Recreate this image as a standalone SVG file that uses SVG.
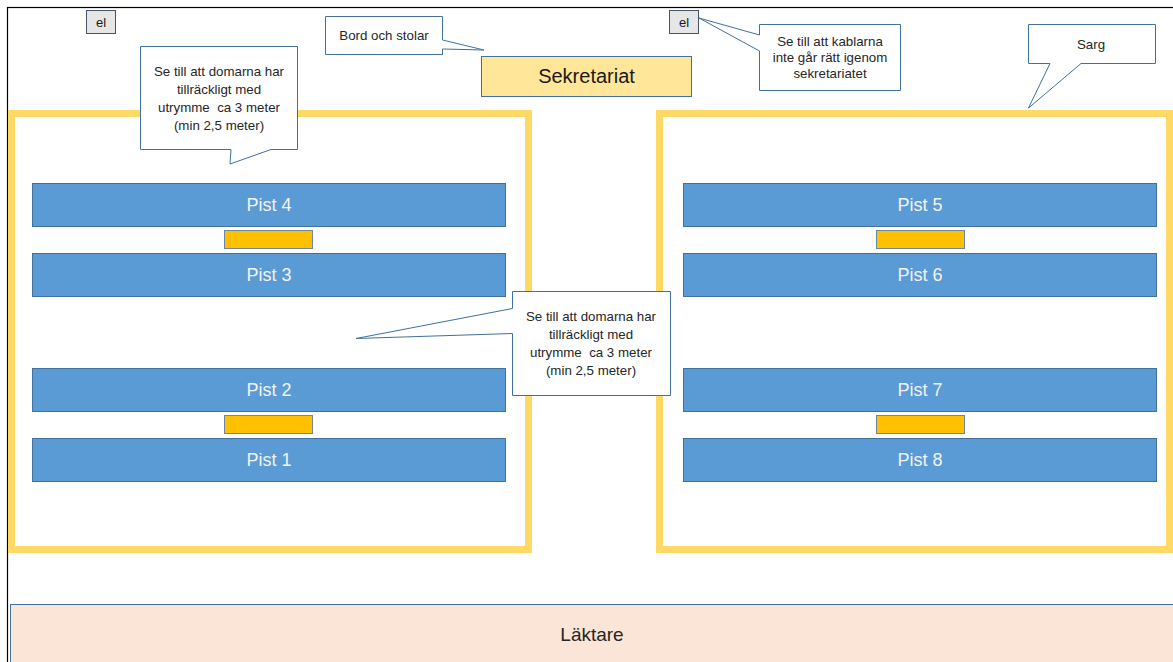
<svg xmlns="http://www.w3.org/2000/svg" width="1173" height="662" viewBox="0 0 1173 662">
<style>
text{font-family:"Liberation Sans",Arial,sans-serif}
.frame{fill:none;stroke:#000;stroke-width:1.2}
.sarg{fill:#fff;stroke:#ffd966;stroke-width:7}
.pist{fill:#5b9bd5;stroke:#41719c;stroke-width:1}
.pt{fill:#f2f2f2;font-size:18px;text-anchor:middle}
.gold{fill:#ffc000;stroke:#6f86a0;stroke-width:1}
.el{fill:#e7e6e6;stroke:#44546a;stroke-width:1}
.elt{fill:#1a1a1a;font-size:13px;text-anchor:middle}
.call{fill:#fff;stroke:#41719c;stroke-width:1}
.ct{fill:#262626;font-size:13.3px;text-anchor:middle;white-space:pre}
.sek{fill:#ffe699;stroke:#41719c;stroke-width:1}
.lak{fill:#fbe5d6;stroke:#41719c;stroke-width:1}
</style>
<rect x="0" y="0" width="1173" height="662" fill="#fff"/>
<rect class="frame" x="7.5" y="7.5" width="1180" height="670"/>

<g id="sarg-left"><rect class="sarg" x="11.5" y="113.5" width="517" height="436"/></g>
<g id="sarg-right"><rect class="sarg" x="659.5" y="113.5" width="510" height="436"/></g>

<g id="lakare"><rect class="lak" x="10.5" y="604.5" width="1180" height="70"/><text x="592" y="641" style="fill:#262626;font-size:19px;text-anchor:middle">Läktare</text></g>

<g id="sekretariat"><rect class="sek" x="481.5" y="56.5" width="210" height="40"/><text x="586.5" y="83" style="fill:#1a1a1a;font-size:20px;text-anchor:middle">Sekretariat</text></g>

<g id="el-left"><rect class="el" x="86.5" y="10.5" width="29" height="23"/><text class="elt" x="101" y="26.5">el</text></g>
<g id="el-right"><rect class="el" x="669.5" y="10.5" width="29" height="23"/><text class="elt" x="684" y="26.5">el</text></g>

<g id="pist4"><rect class="pist" x="32.5" y="183.5" width="473" height="43"/><text class="pt" x="269" y="211">Pist 4</text></g>
<g id="pist3"><rect class="pist" x="32.5" y="253.5" width="473" height="43"/><text class="pt" x="269" y="281">Pist 3</text></g>
<g id="pist2"><rect class="pist" x="32.5" y="368.5" width="473" height="43"/><text class="pt" x="269" y="396">Pist 2</text></g>
<g id="pist1"><rect class="pist" x="32.5" y="438.5" width="473" height="43"/><text class="pt" x="269" y="466">Pist 1</text></g>
<g id="gold-l1"><rect class="gold" x="224.5" y="230.5" width="88" height="18"/></g>
<g id="gold-l2"><rect class="gold" x="224.5" y="415.5" width="88" height="18"/></g>

<g id="pist5"><rect class="pist" x="683.5" y="183.5" width="473" height="43"/><text class="pt" x="920" y="211">Pist 5</text></g>
<g id="pist6"><rect class="pist" x="683.5" y="253.5" width="473" height="43"/><text class="pt" x="920" y="281">Pist 6</text></g>
<g id="pist7"><rect class="pist" x="683.5" y="368.5" width="473" height="43"/><text class="pt" x="920" y="396">Pist 7</text></g>
<g id="pist8"><rect class="pist" x="683.5" y="438.5" width="473" height="43"/><text class="pt" x="920" y="466">Pist 8</text></g>
<g id="gold-r1"><rect class="gold" x="876.5" y="230.5" width="88" height="18"/></g>
<g id="gold-r2"><rect class="gold" x="876.5" y="415.5" width="88" height="18"/></g>

<g id="connectors">
<g id="callout-bord"><path class="call" d="M325.5,16.5 H442.5 V40 L484,50 L442.5,49 V54.5 H325.5 Z"/><text class="ct" x="384" y="40">Bord och stolar</text></g>
<g id="callout-domare-top"><path class="call" d="M140.5,46.5 H297.5 V149.5 H271 L230,164 L231,149.5 H140.5 Z"/>
<text class="ct" x="219" y="76">Se till att domarna har</text>
<text class="ct" x="219" y="94">tillräckligt med</text>
<text class="ct" x="219" y="112">utrymme  ca 3 meter</text>
<text class="ct" x="219" y="130">(min 2,5 meter)</text></g>
<g id="callout-kablar"><path class="call" d="M759.5,24.5 H900.5 V90.5 H759.5 V51 L699,18 L759.5,35 Z"/>
<text class="ct" x="830" y="46">Se till att kablarna</text>
<text class="ct" x="830" y="62">inte går rätt igenom</text>
<text class="ct" x="830" y="78">sekretariatet</text></g>
<g id="callout-sarg"><path class="call" d="M1028.5,24.5 H1155.5 V63.5 H1081 L1028.5,108 L1050,63.5 H1028.5 Z"/>
<text class="ct" x="1091" y="49">Sarg</text></g>
<g id="callout-domare-mid"><path class="call" d="M512.5,291.5 H670.5 V395.5 H512.5 V333.5 L356,338.5 L512.5,308.5 Z"/>
<text class="ct" x="591" y="321">Se till att domarna har</text>
<text class="ct" x="591" y="339">tillräckligt med</text>
<text class="ct" x="591" y="357">utrymme  ca 3 meter</text>
<text class="ct" x="591" y="375">(min 2,5 meter)</text></g>
</g>
</svg>
